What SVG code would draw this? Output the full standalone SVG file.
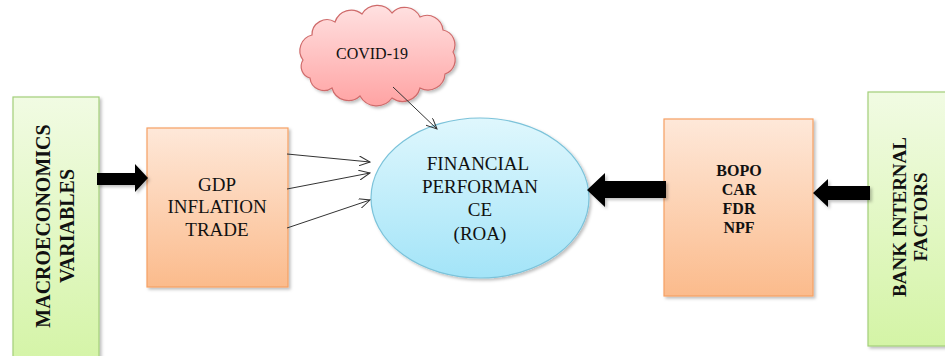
<svg xmlns="http://www.w3.org/2000/svg" width="945" height="356" viewBox="0 0 945 356">
<defs>
<linearGradient id="gGreen" x1="0" y1="0" x2="0" y2="1"><stop offset="0" stop-color="#f1fbe3"/><stop offset="1" stop-color="#d4f4a6"/></linearGradient>
<linearGradient id="gOrange" x1="0" y1="0" x2="0" y2="1"><stop offset="0" stop-color="#fee8d9"/><stop offset="1" stop-color="#fbbb8c"/></linearGradient>
<linearGradient id="gBlue" x1="0" y1="0" x2="0" y2="1"><stop offset="0" stop-color="#dff7fd"/><stop offset="1" stop-color="#a3e4f8"/></linearGradient>
<linearGradient id="gPink" x1="0" y1="0" x2="0" y2="1"><stop offset="0" stop-color="#ffe1e1"/><stop offset="1" stop-color="#ffa3a3"/></linearGradient>
<filter id="sh" x="-10%" y="-10%" width="130%" height="130%"><feDropShadow dx="2" dy="2" stdDeviation="1.5" flood-color="#000" flood-opacity="0.25"/></filter>
<marker id="open" viewBox="0 0 12 10" refX="11" refY="5" markerWidth="12" markerHeight="10" markerUnits="userSpaceOnUse" orient="auto"><path d="M0,0 L11,5 L0,10" fill="none" stroke="#333" stroke-width="1"/></marker>
<style>
.green{fill:url(#gGreen);stroke:#a3cf7a;stroke-width:1.2}
.orange{fill:url(#gOrange);stroke:#f6a063;stroke-width:1.2}
.t{font-family:"Liberation Serif","Times New Roman",serif;fill:#111;text-anchor:middle}
.b{font-weight:bold}
.thin{stroke:#333;stroke-width:1;fill:none;marker-end:url(#open)}
.block{fill:#000}
</style>
</defs>

<g id="macro">
<rect class="green" x="13" y="97" width="86" height="270" filter="url(#sh)"/>
<text class="t b" font-size="20" transform="translate(43,226) rotate(-90)" dominant-baseline="central">MACROECONOMICS</text>
<text class="t b" font-size="20" transform="translate(67,226) rotate(-90)" dominant-baseline="central">VARIABLES</text>
</g>

<g id="gdp">
<rect class="orange" x="147" y="128" width="141" height="159" filter="url(#sh)"/>
<text class="t" font-size="19" x="217" y="191">GDP</text>
<text class="t" font-size="19" x="217" y="213">INFLATION</text>
<text class="t" font-size="19" x="217" y="236">TRADE</text>
</g>

<g id="covid">
<path d="M303,60 A16,16 0 0 1 312,35 A15,15 0 0 1 335,22 A17,17 0 0 1 362,14 A18,18 0 0 1 392,13 A17,17 0 0 1 420,17 A16,16 0 0 1 443,30 A15,15 0 0 1 453,52 A15,15 0 0 1 445,74 A17,17 0 0 1 420,88 A18,18 0 0 1 392,98 A19,19 0 0 1 360,96 A17,17 0 0 1 332,88 A14,14 0 0 1 310,78 A12,12 0 0 1 303,60 Z" fill="url(#gPink)" stroke="#cf6a6a" stroke-width="1.2" filter="url(#sh)"/>
<text class="t" font-size="16" x="372" y="59">COVID-19</text>
</g>

<g id="financial">
<ellipse cx="480" cy="198" rx="109" ry="80" fill="url(#gBlue)" stroke="#7cc3da" stroke-width="1.2" filter="url(#sh)"/>
<text class="t" font-size="19" x="478" y="170">FINANCIAL</text>
<text class="t" font-size="19" x="480" y="193">PERFORMAN</text>
<text class="t" font-size="19" x="480" y="216">CE</text>
<text class="t" font-size="19" x="480" y="240">(ROA)</text>
</g>

<g id="internal">
<rect class="orange" x="664" y="119" width="149" height="177" filter="url(#sh)"/>
<text class="t b" font-size="16" x="739" y="176">BOPO</text>
<text class="t b" font-size="16" x="739" y="195">CAR</text>
<text class="t b" font-size="16" x="739" y="214">FDR</text>
<text class="t b" font-size="16" x="739" y="233">NPF</text>
</g>

<g id="bank">
<rect class="green" x="868" y="92" width="90" height="254" filter="url(#sh)"/>
<text class="t b" font-size="19" transform="translate(899,217) rotate(-90)" dominant-baseline="central">BANK INTERNAL</text>
<text class="t b" font-size="19" transform="translate(920,217) rotate(-90)" dominant-baseline="central">FACTORS</text>
</g>

<g id="connectors">
<polygon class="block" filter="url(#sh)" points="97,173 135,173 135,164 148,178 135,192 135,185 97,185"/>
<polygon class="block" filter="url(#sh)" points="666,181 605,181 605,173 587,190 605,207 605,198 666,198"/>
<polygon class="block" filter="url(#sh)" points="870,186 828,186 828,179 813,193 828,207 828,200 870,200"/>
<line class="thin" x1="287" y1="154" x2="370" y2="162"/>
<line class="thin" x1="287" y1="189" x2="370" y2="173"/>
<line class="thin" x1="287" y1="228" x2="370" y2="200"/>
<line class="thin" x1="393" y1="87" x2="437" y2="129"/>
</g>
</svg>
